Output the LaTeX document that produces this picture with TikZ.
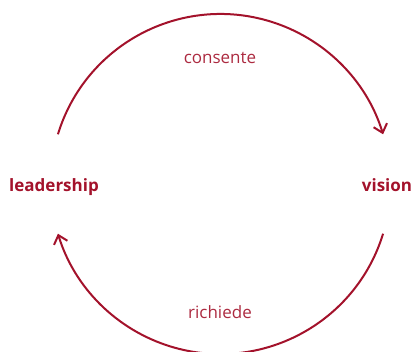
\documentclass[tikz,border=0pt]{standalone}
\usepackage{fontspec}
\setmainfont{Open Sans}
\usetikzlibrary{arrows.meta,calc,positioning}
\definecolor{cyclered}{RGB}{163,18,43}

\tikzset{
  concept/.style={font=\fontsize{17}{20}\selectfont\bfseries, text=cyclered, anchor=base},
  verb/.style={font=\fontsize{17}{20}\selectfont, text=cyclered!90, anchor=base},
  cyclearrow/.style={draw=cyclered, line width=2pt, -{Straight Barb[length=8pt,width=14pt]}}
}

\begin{document}
\begin{tikzpicture}[x=1pt,y=1pt]
    \useasboundingbox (0,0) rectangle (414,352);
    % the two ideas
    \node[concept] (leadership) at (54,160) {leadership};
    \node[concept] (vision) at (387,160) {vision};

    % centre of the cycle
    \coordinate (c) at (220.5,168);
    \coordinate (topstart) at ($(c)+(163:170)$);
    \coordinate (botstart) at ($(c)+(-17:170)$);

    % arcs between them
    \draw[cyclearrow] (topstart) arc[start angle=163, end angle=17, radius=170];
    \draw[cyclearrow] (botstart) arc[start angle=-17, end angle=-163, radius=170];

    \node[verb] (consente) at (220,288) {consente};
    \node[verb] (richiede) at (220,33) {richiede};
\end{tikzpicture}
\end{document}
